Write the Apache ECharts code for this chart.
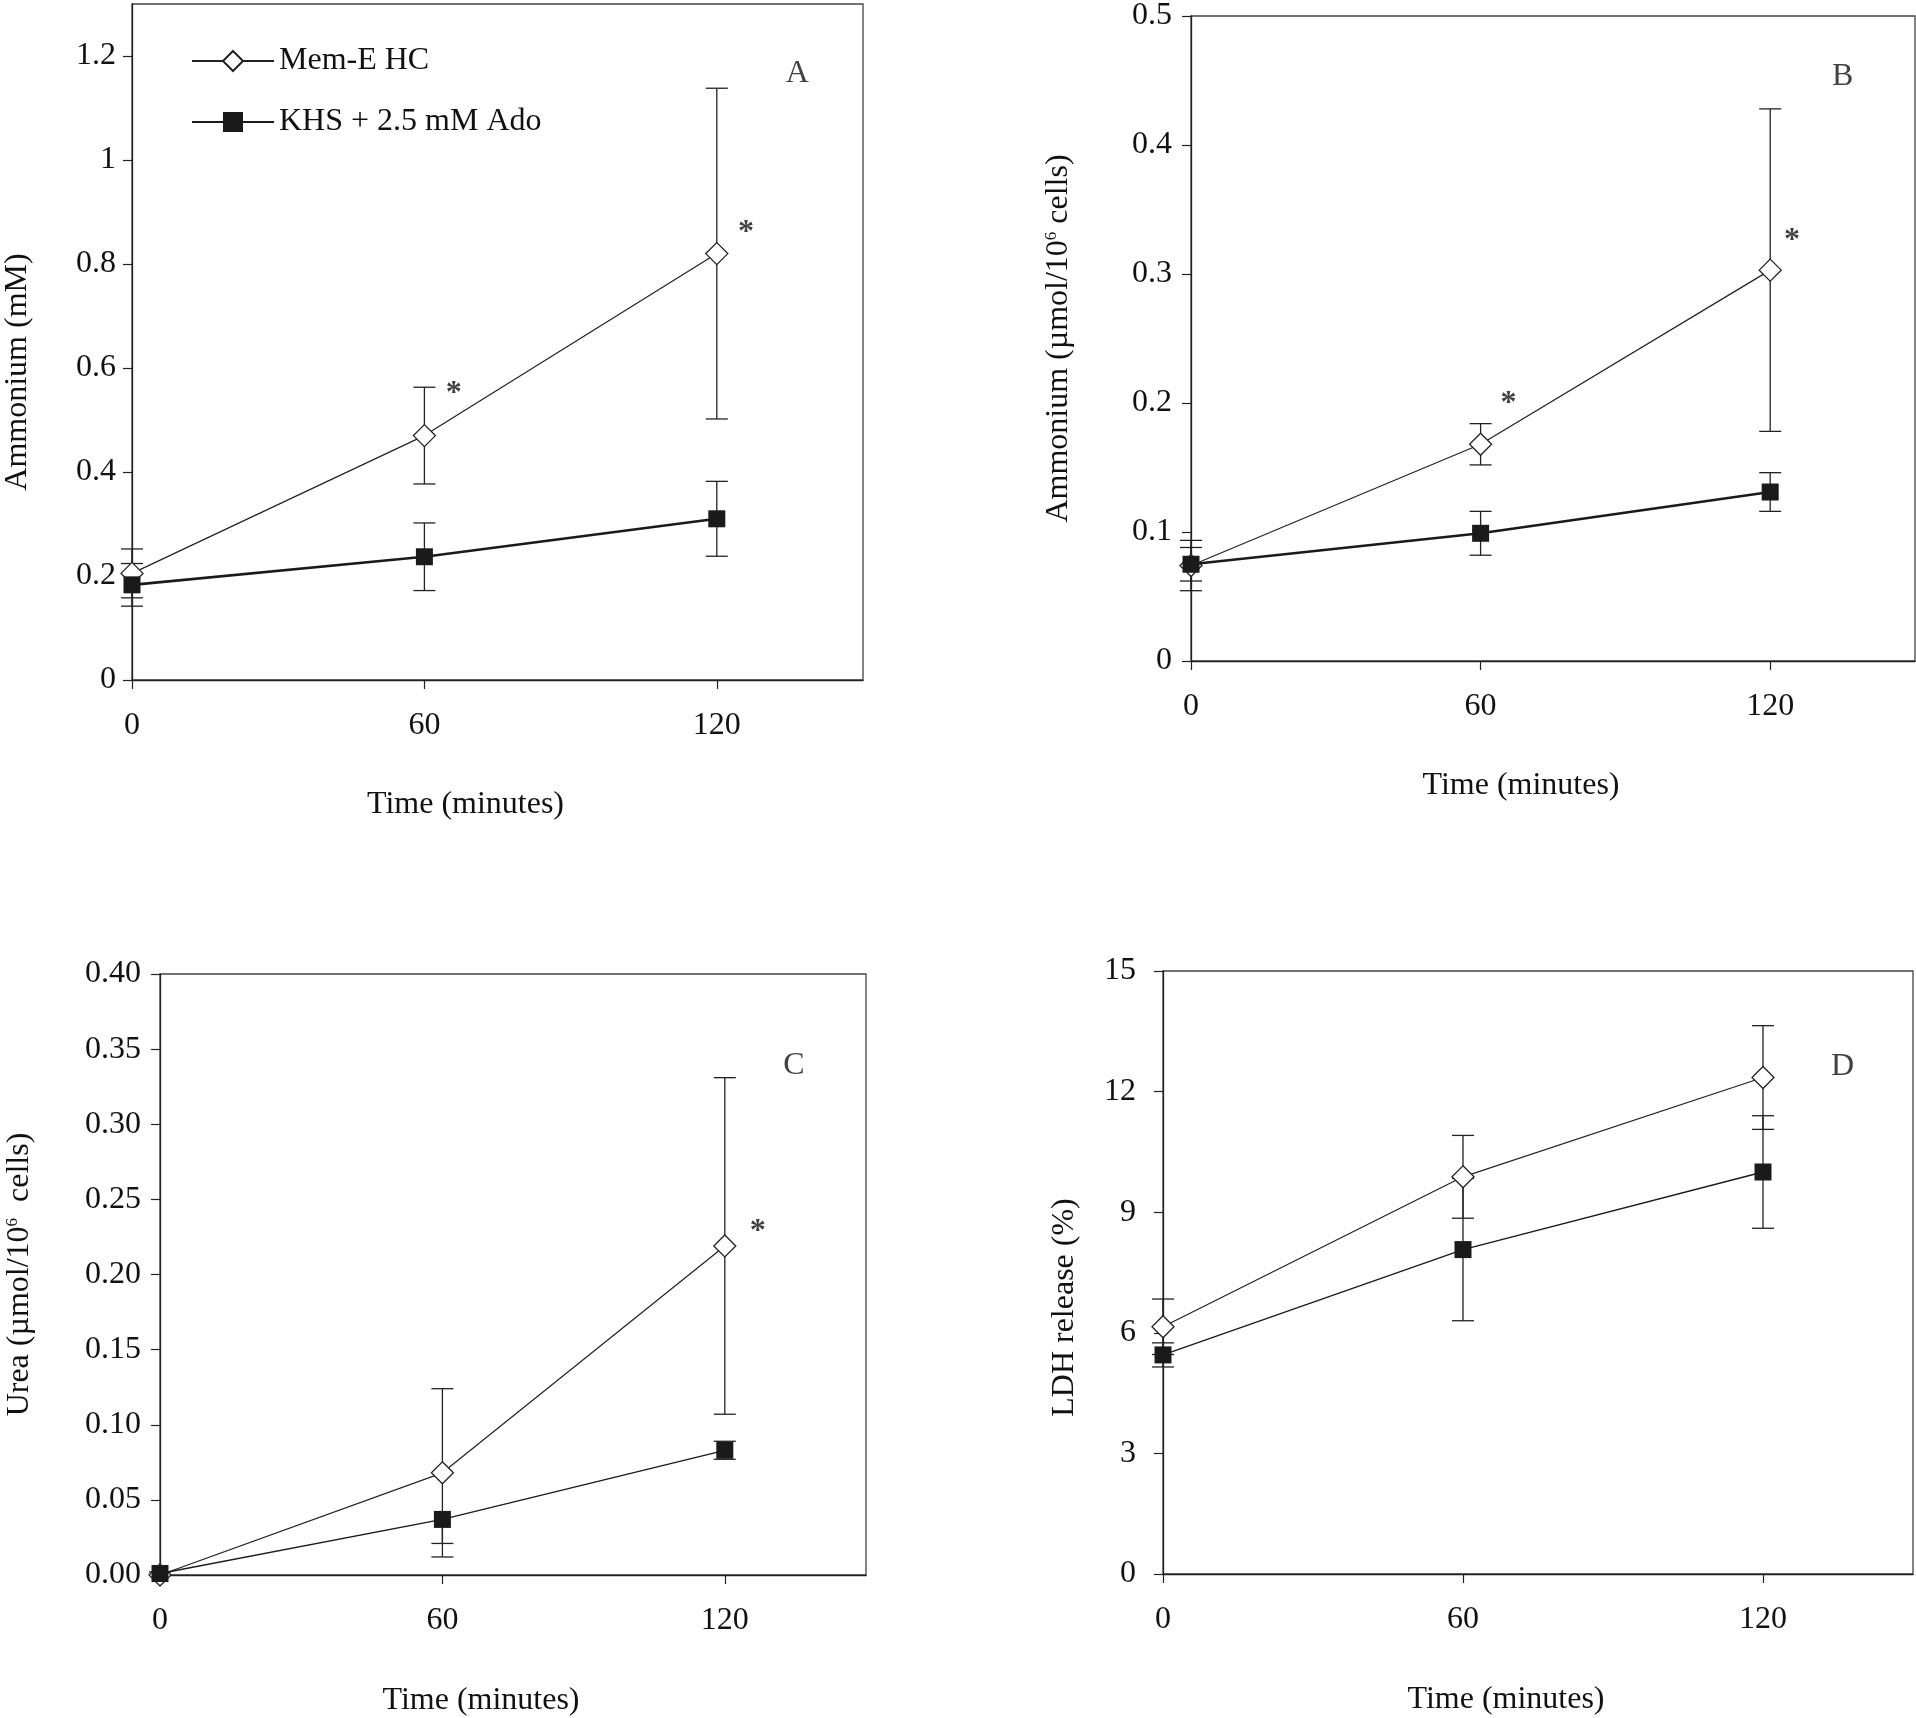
<!DOCTYPE html>
<html><head><meta charset="utf-8">
<script src="https://cdn.jsdelivr.net/npm/echarts@6/dist/echarts.min.js"></script>
<style>html,body{margin:0;padding:0;background:#fff}#c{width:1916px;height:1718px}</style>
</head><body><div id="c"></div>
<script>
// ---------- data ----------
const time = [0, 60, 120];
const xTicks = [0, 60, 120];
const seriesNames = ['Mem-E HC', 'KHS + 2.5 mM Ado'];

// Panel A: Ammonium (mM)
const memA = [0.205, 0.47, 0.82];
const memAErr = [0.047, 0.093, 0.318];
const khsA = [0.183, 0.237, 0.31];
const khsAErr = [0.041, 0.065, 0.072];
const yTicksA = [0, 0.2, 0.4, 0.6, 0.8, 1, 1.2];
const starsA = [[66, 0.56], [126, 0.87]];
const letterA = [[136.5, 1.167]];

// Panel B: Ammonium (µmol/10^6 cells)
const memB = [0.074, 0.168, 0.303];
const memBErr = [0.0195, 0.016, 0.125];
const khsB = [0.075, 0.099, 0.131];
const khsBErr = [0.013, 0.017, 0.015];
const yTicksB = [0, 0.1, 0.2, 0.3, 0.4, 0.5];
const starsB = [[65.8, 0.203], [124.5, 0.33]];
const letterB = [[135, 0.453]];

// Panel C: Urea (µmol/10^6 cells)
const memC = [0.0, 0.068, 0.219];
const memCErr = [0, 0.056, 0.112];
const khsC = [0.001, 0.037, 0.083];
const khsCErrUp = [0.001, 0, 0.006];
const khsCErrDown = [0.001, 0.016, 0.006];
const yTicksC = [0, 0.05, 0.1, 0.15, 0.2, 0.25, 0.3, 0.35, 0.4];
const starsC = [[127, 0.232]];
const letterC = [[134.7, 0.339]];

// Panel D: LDH release (%)
const memD = [6.15, 9.88, 12.35];
const memDErr = [0.69, 1.03, 1.29];
const khsD = [5.45, 8.07, 10.0];
const khsDErr = [0.3, 1.77, 1.4];
const yTicksD = [0, 3, 6, 9, 12, 15];
const letterD = [[135.9, 12.63]];

// ---------- layout / style ----------
const FONT = "'Liberation Serif','Times New Roman',serif";
const INK = '#111';
const panels = [
  {grid:{left:132, top:4, width:731, height:676}, yMax:1.3, yTicks:yTicksA, fmt:v=>String(v),
   yName:'Ammonium (mM)', yGap:98, yMargin:16, yPad:[0,60,0,0], xGap:109,
   mem:memA, memUp:memAErr, memDown:memAErr, khs:khsA, khsUp:khsAErr, khsDown:khsAErr,
   khsWidth:2.6, stars:starsA, letter:letterA, letterText:'A'},
  {grid:{left:1191, top:10, width:724, height:651}, yMax:0.5, yTicks:yTicksB, fmt:v=>String(v),
   yName:'Ammonium (µmol/10{sup|6} cells)', yGap:116, yMargin:19, yPad:[0,0,0,0], xGap:109,
   mem:memB, memUp:memBErr, memDown:memBErr, khs:khsB, khsUp:khsBErr, khsDown:khsBErr,
   khsWidth:2.6, stars:starsB, letter:letterB, letterText:'B'},
  {grid:{left:160, top:974, width:706, height:601}, yMax:0.4, yTicks:yTicksC, fmt:v=>v.toFixed(2),
   yName:'Urea (µmol/10{sup|6}  cells)', yGap:124, yMargin:19, yPad:[0,0,0,0], xGap:110,
   mem:memC, memUp:memCErr, memDown:memCErr, khs:khsC, khsUp:khsCErrUp, khsDown:khsCErrDown,
   khsWidth:1.3, stars:starsC, letter:letterC, letterText:'C'},
  {grid:{left:1163, top:971, width:750, height:603}, yMax:15, yTicks:yTicksD, fmt:v=>String(v),
   yName:'LDH release (%)', yGap:82, yMargin:27, yPad:[0,70,0,0], xGap:110,
   mem:memD, memUp:memDErr, memDown:memDErr, khs:khsD, khsUp:khsDErr, khsDown:khsDErr,
   khsWidth:1.3, stars:[], letter:letterD, letterText:'D'}
];

function errData(vals, up, down) {
  return time.map((t, i) => [t, vals[i] - down[i], vals[i] + up[i], vals[i]]);
}
function errRender(params, api) {
  const x = api.value(0), lo = api.value(1), hi = api.value(2), m = api.value(3);
  const pLo = api.coord([x, lo]), pHi = api.coord([x, hi]);
  const w = 11;
  const style = {stroke: '#222', lineWidth: 1.3, fill: null};
  const ch = [];
  if (hi - lo > 0) ch.push({type:'line', shape:{x1:pLo[0], y1:pLo[1], x2:pHi[0], y2:pHi[1]}, style});
  if (hi > m) ch.push({type:'line', shape:{x1:pHi[0]-w, y1:pHi[1], x2:pHi[0]+w, y2:pHi[1]}, style});
  if (lo < m) ch.push({type:'line', shape:{x1:pLo[0]-w, y1:pLo[1], x2:pLo[0]+w, y2:pLo[1]}, style});
  return {type:'group', children: ch};
}

const grids = [], xAxes = [], yAxes = [], series = [];
panels.forEach((p, i) => {
  grids.push(Object.assign({show:true, borderColor:'#444', borderWidth:1.3, backgroundColor:'transparent'}, p.grid));
  xAxes.push({
    type:'value', gridIndex:i, min:0, max:150,
    axisLine:{show:true, onZero:false, lineStyle:{color:'#222', width:1.3}},
    axisTick:{show:true, inside:false, length:9, customValues:xTicks, lineStyle:{color:'#222', width:1.2}},
    axisLabel:{customValues:xTicks, margin:30, fontSize:32, fontFamily:FONT, color:INK},
    splitLine:{show:false},
    name:'Time (minutes)', nameLocation:'middle', nameGap:p.xGap,
    nameTextStyle:{fontSize:32, fontFamily:FONT, color:INK, padding:[0,64,0,0]}
  });
  yAxes.push({
    type:'value', gridIndex:i, min:0, max:p.yMax,
    axisLine:{show:true, onZero:false, lineStyle:{color:'#222', width:1.3}},
    axisTick:{show:true, inside:false, length:9, customValues:p.yTicks, lineStyle:{color:'#222', width:1.2}},
    axisLabel:{customValues:p.yTicks, margin:p.yMargin, fontSize:32, fontFamily:FONT, color:INK, formatter:p.fmt},
    splitLine:{show:false},
    name:p.yName, nameLocation:'middle', nameGap:p.yGap, nameRotate:90,
    nameTextStyle:{fontSize:32, fontFamily:FONT, color:INK, padding:p.yPad,
      rich:{sup:{fontSize:17, fontFamily:FONT, color:INK, verticalAlign:'top', lineHeight:32}}}
  });
  series.push({
    type:'custom', name:'err-mem-'+i, xAxisIndex:i, yAxisIndex:i, z:1, silent:true,
    renderItem: errRender, data: errData(p.mem, p.memUp, p.memDown), encode:{x:0, y:[1,2]}
  });
  series.push({
    type:'custom', name:'err-khs-'+i, xAxisIndex:i, yAxisIndex:i, z:1, silent:true,
    renderItem: errRender, data: errData(p.khs, p.khsUp, p.khsDown), encode:{x:0, y:[1,2]}
  });
  series.push({
    type:'line', name:seriesNames[0], xAxisIndex:i, yAxisIndex:i, z:3,
    data: time.map((t, k) => [t, p.mem[k]]),
    symbol:'diamond', symbolSize:22, showSymbol:true,
    lineStyle:{color:'#222', width:1.2},
    itemStyle:{color:'#fff', borderColor:'#222', borderWidth:1.3}
  });
  series.push({
    type:'line', name:seriesNames[1], xAxisIndex:i, yAxisIndex:i, z:4,
    data: time.map((t, k) => [t, p.khs[k]]),
    symbol:'rect', symbolSize:17, showSymbol:true,
    lineStyle:{color:'#1a1a1a', width:p.khsWidth},
    itemStyle:{color:'#1a1a1a', borderColor:'#1a1a1a', borderWidth:0}
  });
  series.push({
    type:'scatter', name:'stars-'+i, xAxisIndex:i, yAxisIndex:i, z:5, silent:true,
    data: p.stars, symbolSize:1, itemStyle:{color:'transparent'},
    label:{show:true, position:'inside', formatter:'*', fontSize:32, fontWeight:'bold', fontFamily:FONT, color:INK, offset:[0,5]}
  });
  series.push({
    type:'scatter', name:'letter-'+i, xAxisIndex:i, yAxisIndex:i, z:5, silent:true,
    data: p.letter, symbolSize:1, itemStyle:{color:'transparent'},
    label:{show:true, position:'inside', formatter:p.letterText, fontSize:32, fontFamily:FONT, color:INK}
  });
});

const chart = echarts.init(document.getElementById('c'), null, {renderer:'canvas'});
chart.setOption({
  animation:false,
  backgroundColor:'#fff',
  grid:grids, xAxis:xAxes, yAxis:yAxes,
  legend:{
    data:seriesNames, left:186, top:40, orient:'vertical',
    itemWidth:82, itemHeight:25, itemGap:29,
    textStyle:{fontSize:32, fontFamily:FONT, color:INK}
  },
  series:series
});
</script>
</body></html>
